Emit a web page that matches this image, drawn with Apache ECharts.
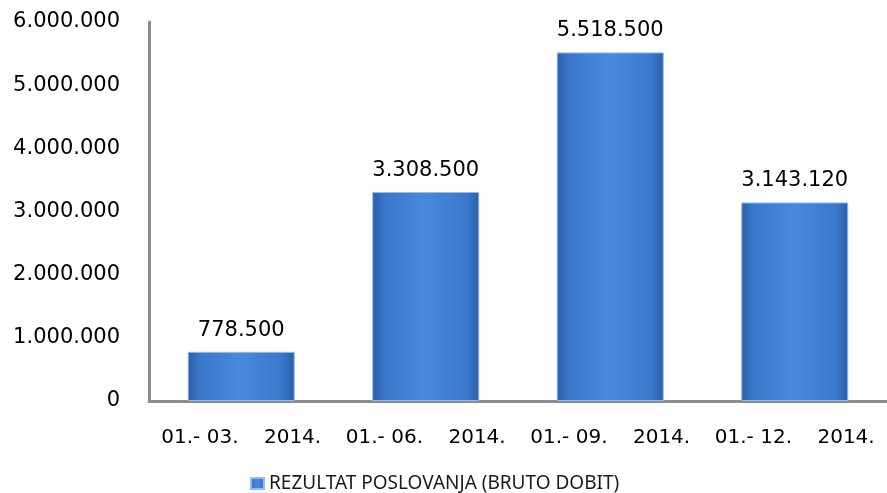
<!DOCTYPE html>
<html lang="hr">
<head>
<meta charset="utf-8">
<title>Rezultat poslovanja</title>
<script src="https://cdn.jsdelivr.net/npm/echarts@6/dist/echarts.min.js"></script>
<style>
  html, body { margin: 0; padding: 0; background: #fff; }
  #chart { width: 887px; height: 493px; }
</style>
</head>
<body>
<div id="chart"></div>
<script type="text/javascript">
    let periods = ['01.- 03.    2014.', '01.- 06.    2014.', '01.- 09.    2014.', '01.- 12.    2014.'];
    let profit = [778500, 3308500, 5518500, 3143120];
    let seriesName = 'REZULTAT POSLOVANJA (BRUTO DOBIT)';

    function fmt(v){
        return String(Math.round(v)).replace(/\B(?=(\d{3})+(?!\d))/g, '.');
    }

    let barColor = new echarts.graphic.LinearGradient(0, 0, 1, 0, [
        { offset: 0, color: '#2b5ea6' },
        { offset: 0.12, color: '#3b78cc' },
        { offset: 0.5, color: '#4889de' },
        { offset: 0.88, color: '#3b78cc' },
        { offset: 1, color: '#2b5ea6' }
    ]);

    let Chart = echarts.init(document.getElementById('chart'));

    let option = {
        animation: false,
        textStyle: { fontFamily: 'DejaVu Sans' },
        grid: { left: 149, top: 22, width: 744, height: 379 },
        legend: {
            top: 474,
            left: 250,
            padding: 0,
            icon: 'rect',
            itemWidth: 13,
            itemHeight: 11,
            itemGap: 5,
            textStyle: { fontSize: 19, color: '#1a1a1a', fontFamily: 'Noto Sans' },
            data: [seriesName]
        },
        xAxis: {
            type: 'category',
            data: periods,
            axisLine: { lineStyle: { color: '#8c8c8c', width: 3 } },
            axisTick: { show: false },
            axisLabel: { fontSize: 20, color: '#000', margin: 27, interval: 0 }
        },
        yAxis: {
            type: 'value',
            min: 0,
            max: 6000000,
            interval: 1000000,
            axisLine: { show: true, lineStyle: { color: '#8c8c8c', width: 3 } },
            axisTick: { show: false },
            splitLine: { show: false },
            axisLabel: { fontSize: 21, color: '#000', margin: 29, formatter: fmt }
        },
        series: [
            {
                name: seriesName,
                type: 'bar',
                barWidth: '58%',
                data: profit,
                itemStyle: {
                    color: barColor,
                    borderColor: '#8fbcf2',
                    borderWidth: 1
                },
                label: {
                    show: true,
                    position: 'top',
                    distance: 11,
                    fontSize: 21,
                    color: '#000',
                    formatter: function(p){ return fmt(p.value); }
                }
            }
        ]
    };

    Chart.setOption(option);
</script>
</body>
</html>
